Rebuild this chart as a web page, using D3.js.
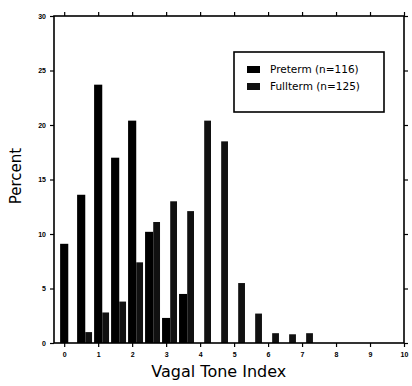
<!DOCTYPE html>
<html>
<head>
<meta charset="utf-8">
<script src="https://cdn.jsdelivr.net/npm/d3@7"></script>
<style>
  body { margin: 0; background: #fff; }
  svg { display: block; font-family: "DejaVu Sans", sans-serif; }
  .tick text { font-size: 7px; font-weight: bold; fill: #000; }
  .tick line { stroke: #000; stroke-width: 1.2; }
</style>
</head>
<body>
<div id="plot"></div>
<script>
// Vagal tone histogram, preterm vs fullterm

// bins of the vagal tone index (0.5 wide)
var bins = [0, 0.5, 1, 1.5, 2, 2.5, 3, 3.5, 4, 4.5, 5, 5.5, 6, 6.5, 7];
// percent of infants in each bin
var preterm = [9.1, 13.6, 23.7, 17.0, 20.4, 10.2, 2.3, 4.5, 0, 0, 0, 0, 0, 0, 0];
var fullterm = [0, 1.0, 2.8, 3.8, 7.4, 11.1, 13.0, 12.1, 20.4, 18.5, 5.5, 2.7, 0.9, 0.8, 0.9];

var seriesNames = ["Preterm (n=116)", "Fullterm (n=125)"];
var xTicks = [0, 1, 2, 3, 4, 5, 6, 7, 8, 9, 10];
var yTicks = [0, 5, 10, 15, 20, 25, 30];

var svgWidth = 412;
var svgHeight = 386;

var margin = {
  top: 16,
  right: 8,
  bottom: 43,
  left: 54
};

var width = svgWidth - margin.left - margin.right;
var height = svgHeight - margin.top - margin.bottom;

var svg = d3.select("#plot")
  .append("svg")
  .attr("width", svgWidth)
  .attr("height", svgHeight);

var chartGroup = svg.append("g")
  .attr("transform", `translate(${margin.left}, ${margin.top})`);

var rows = bins.map(function (b, i) {
  return { bin: b, pre: preterm[i], full: fullterm[i] };
});

// scales
var xLinearScale = d3.scaleLinear()
  .domain([-0.3, 10])
  .range([0, width]);

var yLinearScale = d3.scaleLinear()
  .domain([0, 30])
  .range([height, 0]);

// axes, ticks outward on all four sides
var bottomAxis = d3.axisBottom(xLinearScale).tickValues(xTicks).tickSize(4).tickSizeOuter(0).tickPadding(5);
var topAxis = d3.axisTop(xLinearScale).tickValues(xTicks).tickSize(4).tickSizeOuter(0).tickFormat("");
var leftAxis = d3.axisLeft(yLinearScale).tickValues(yTicks).tickSize(4).tickSizeOuter(0).tickPadding(4);
var rightAxis = d3.axisRight(yLinearScale).tickValues(yTicks).tickSize(4).tickSizeOuter(0).tickFormat("");

chartGroup.append("g").attr("transform", `translate(0, ${height})`).call(bottomAxis);
chartGroup.append("g").call(topAxis);
chartGroup.append("g").call(leftAxis);
chartGroup.append("g").attr("transform", `translate(${width}, 0)`).call(rightAxis);
chartGroup.selectAll(".domain").remove();

// bars: preterm left, fullterm right of each bin
chartGroup.selectAll(".pre")
  .data(rows)
  .enter()
  .append("rect")
  .attr("class", "pre")
  .attr("x", d => xLinearScale(d.bin - 0.12))
  .attr("width", d => xLinearScale(d.bin + 0.12) - xLinearScale(d.bin - 0.12))
  .attr("y", d => yLinearScale(d.pre))
  .attr("height", d => height - yLinearScale(d.pre))
  .attr("fill", "#000");

chartGroup.selectAll(".full")
  .data(rows)
  .enter()
  .append("rect")
  .attr("class", "full")
  .attr("x", d => xLinearScale(d.bin + 0.12))
  .attr("width", d => xLinearScale(d.bin + 0.32) - xLinearScale(d.bin + 0.12))
  .attr("y", d => yLinearScale(d.full))
  .attr("height", d => height - yLinearScale(d.full))
  .attr("fill", "#111");

// frame
chartGroup.append("rect")
  .attr("width", width)
  .attr("height", height)
  .attr("fill", "none")
  .attr("stroke", "#000")
  .attr("stroke-width", 1.6);

// legend
var legend = chartGroup.append("g")
  .attr("transform", "translate(180, 36)");

legend.append("rect")
  .attr("width", 150)
  .attr("height", 60)
  .attr("fill", "#fff")
  .attr("stroke", "#000")
  .attr("stroke-width", 1.6);

legend.selectAll(".sw")
  .data(seriesNames)
  .enter()
  .append("rect")
  .attr("x", 13)
  .attr("y", (d, i) => 14 + i * 17)
  .attr("width", 13)
  .attr("height", 7)
  .attr("fill", (d, i) => i == 0 ? "#000" : "#111");

legend.selectAll(".lt")
  .data(seriesNames)
  .enter()
  .append("text")
  .attr("x", 36)
  .attr("y", (d, i) => 21 + i * 17)
  .attr("font-size", "10.5px")
  .text(d => d);

// axis labels
chartGroup.append("text")
  .attr("transform", "rotate(-90)")
  .attr("y", 0 - margin.left + 21)
  .attr("x", 0 - 160)
  .attr("text-anchor", "middle")
  .attr("font-size", "15px")
  .text("Percent");

chartGroup.append("text")
  .attr("transform", `translate(${xLinearScale(4.55)}, ${height + 34})`)
  .attr("text-anchor", "middle")
  .attr("font-size", "16px")
  .text("Vagal Tone Index");
</script>
</body>
</html>
